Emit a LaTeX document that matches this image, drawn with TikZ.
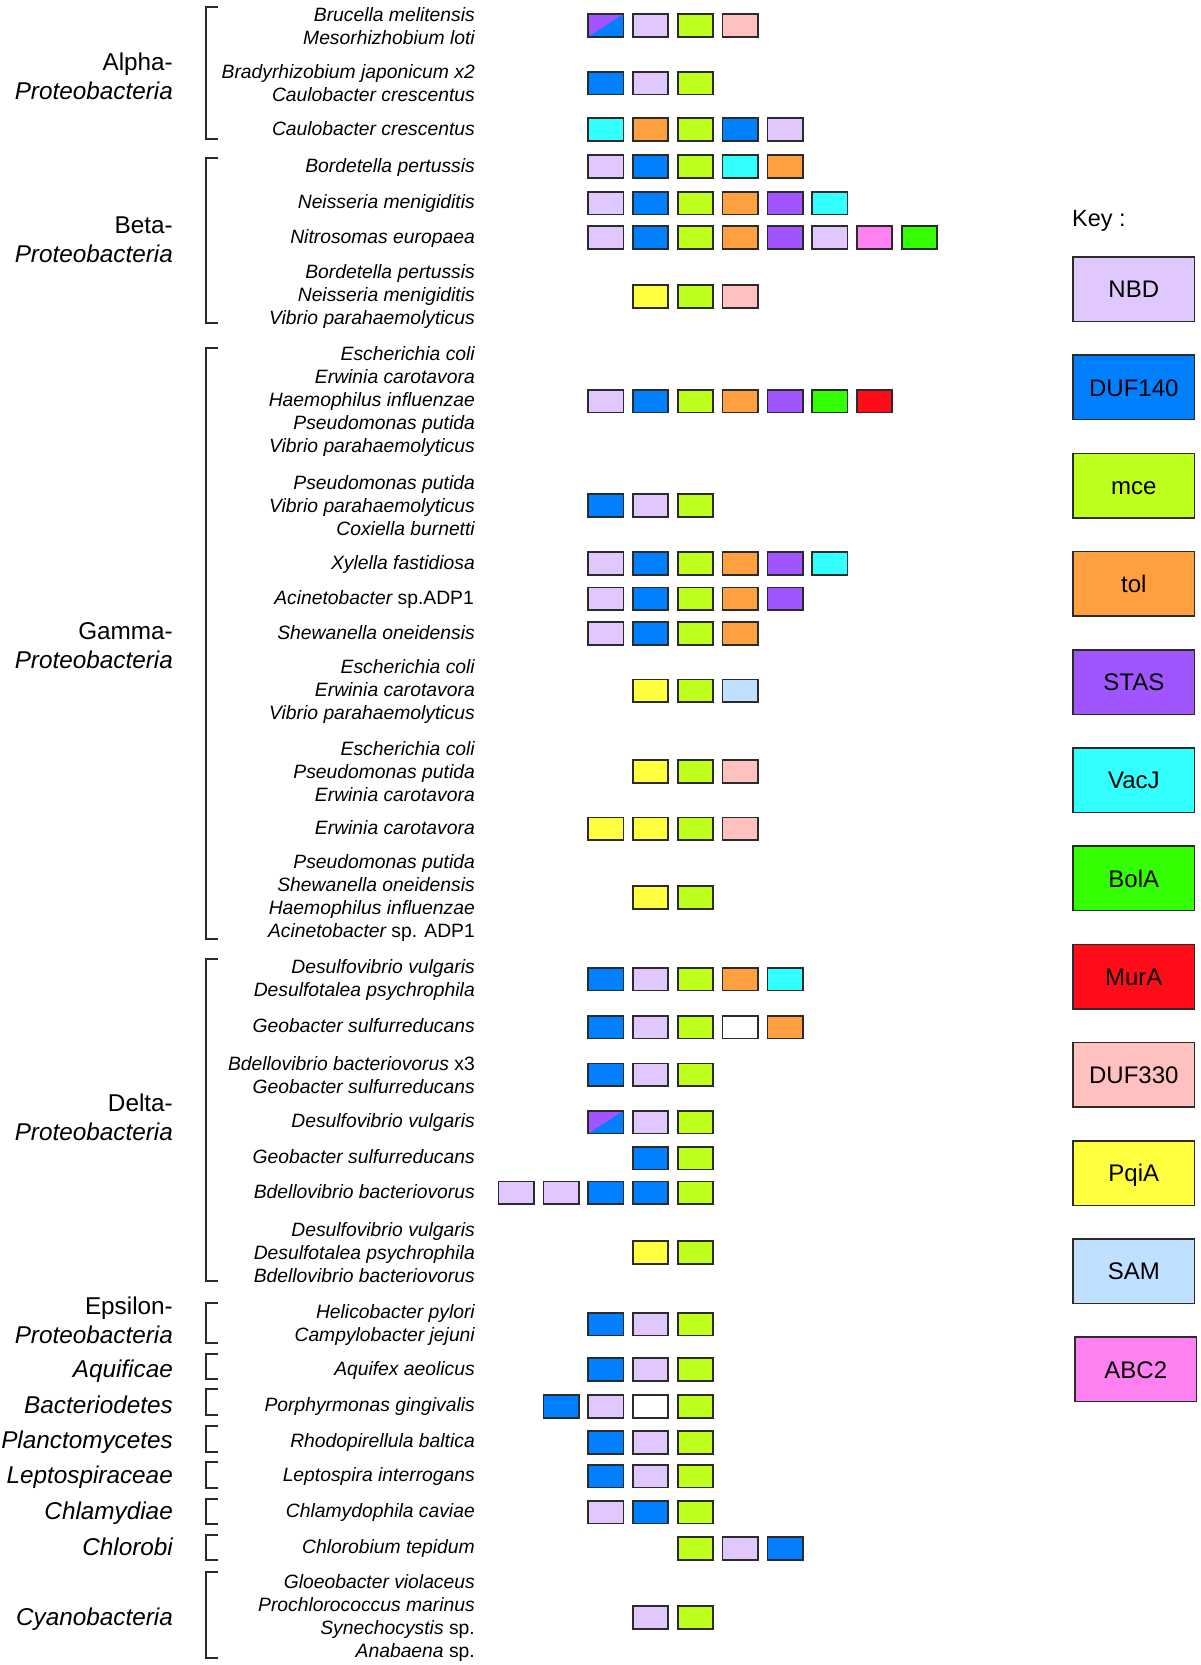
\documentclass[tikz,border=0pt]{standalone}
\usepackage{fontspec}
\setmainfont{Liberation Sans}
\definecolor{cNBD}{HTML}{E0C8FF}
\definecolor{cDUF}{HTML}{0080FF}
\definecolor{cMCE}{HTML}{BEFF1E}
\definecolor{cTOL}{HTML}{FFA040}
\definecolor{cSTAS}{HTML}{A055FF}
\definecolor{cVAC}{HTML}{33FFFF}
\definecolor{cBOL}{HTML}{33FF00}
\definecolor{cMUR}{HTML}{FF0C18}
\definecolor{cDUFB}{HTML}{FFC0C0}
\definecolor{cPQI}{HTML}{FFFF40}
\definecolor{cSAM}{HTML}{C0E0FF}
\definecolor{cABC}{HTML}{FF80F0}
\definecolor{cWHT}{HTML}{FFFFFF}
\definecolor{cEdge}{HTML}{2B2B2B}
\newcommand{\generow}[4]{%
  \foreach \s [count=\i from 0] in {#4}{%
    \node[gbox, fill=\s] (#1-\i) at ({605.8+44.8*(#3+\i)},#2) {};
  }}
\begin{document}
\begin{tikzpicture}[x=1pt,y=-1pt,
  gbox/.style={draw=cEdge, line width=1.7pt, minimum width=35.3pt, minimum height=22.7pt, inner sep=0pt, outer sep=0pt},
  halfbox/.style={gbox, fill=cDUF, path picture={\fill[cSTAS] (path picture bounding box.north west) -- (path picture bounding box.north east) -- (path picture bounding box.south west) -- cycle;}},
  kbox/.style={draw=cEdge, line width=1.5pt, minimum width=121.5pt, minimum height=64.5pt, inner sep=0pt, font=\fontsize{24}{28}\selectfont, text height=17.2pt, text depth=0pt},
  sp/.style={anchor=east, align=right, inner sep=0pt, font=\fontsize{19.3}{23}\selectfont\itshape},
  spone/.style={anchor=base east, inner sep=0pt, font=\fontsize{19.3}{23}\selectfont\itshape},
  grp/.style={anchor=east, align=right, inner sep=0pt, font=\fontsize{24.3}{28.6}\selectfont},
  grpone/.style={anchor=base east, inner sep=0pt, font=\fontsize{24.3}{28.6}\selectfont\itshape},
  brk/.style={draw=cEdge, line width=2pt}
]
\useasboundingbox (0,0) rectangle (1200,1665);

% ---------------- brackets ----------------
\draw[brk] (218.3,6.7) -- (206,6.7) -- (206,139.3) -- (218.3,139.3);
\draw[brk] (218.3,157.7) -- (206,157.7) -- (206,323.3) -- (218.3,323.3);
\draw[brk] (218.3,348.3) -- (206,348.3) -- (206,938.8) -- (218.3,938.8);
\draw[brk] (218.3,959) -- (206,959) -- (206,1280.7) -- (218.3,1280.7);
\draw[brk] (218.3,1302.7) -- (206,1302.7) -- (206,1342.7) -- (218.3,1342.7);
\draw[brk] (218.3,1354) -- (206,1354) -- (206,1379) -- (218.3,1379);
\draw[brk] (218.3,1389.3) -- (206,1389.3) -- (206,1415) -- (218.3,1415);
\draw[brk] (218.3,1425.7) -- (206,1425.7) -- (206,1451.7) -- (218.3,1451.7);
\draw[brk] (218.3,1462.3) -- (206,1462.3) -- (206,1487.7) -- (218.3,1487.7);
\draw[brk] (218.3,1499) -- (206,1499) -- (206,1524.3) -- (218.3,1524.3);
\draw[brk] (218.3,1535.3) -- (206,1535.3) -- (206,1560.3) -- (218.3,1560.3);
\draw[brk] (218.3,1572) -- (206,1572) -- (206,1657.7) -- (218.3,1657.7);

% ---------------- group labels ----------------
\node[grp] (gAlpha) at (173,76.2) {Alpha-\\\textit{Proteobacteria}};
\node[grp] (gBeta) at (173,239.8) {Beta-\\\textit{Proteobacteria}};
\node[grp] (gGamma) at (173,645.9) {Gamma-\\\textit{Proteobacteria}};
\node[grp] (gDelta) at (173,1117.2) {Delta-\\\textit{Proteobacteria}};
\node[grp] (gEps) at (173,1320.5) {Epsilon-\\\textit{Proteobacteria}};
\node[grpone] (gAq) at (173,1377.3) {Aquificae};
\node[grpone] (gBa) at (173,1413.3) {Bacteriodetes};
\node[grpone] (gPl) at (173,1448.3) {Planctomycetes};
\node[grpone] (gLe) at (173,1483.3) {Leptospiraceae};
\node[grpone] (gCh) at (173,1519.3) {Chlamydiae};
\node[grpone] (gCb) at (173,1555) {Chlorobi};
\node[grpone] (gCy) at (173,1625.7) {Cyanobacteria};

% ---------------- species labels ----------------
\node[sp] (lA1) at (475,26) {Brucella melitensis\\Mesorhizhobium loti};
\node[sp] (lA2) at (475,83.5) {Bradyrhizobium japonicum x2\\Caulobacter crescentus};
\node[spone] (lA3) at (475,135.1) {Caulobacter crescentus};
\node[spone] (lB1) at (475,172.1) {Bordetella pertussis};
\node[spone] (lB2) at (475,208.6) {Neisseria menigiditis};
\node[spone] (lB3) at (475,243.1) {Nitrosomas europaea};
\node[sp] (lB4) at (475,296.8) {Bordetella pertussis\\Neisseria menigiditis\\Vibrio parahaemolyticus};
\node[sp] (lG1) at (475,401.7) {Escherichia coli\\Erwinia carotavora\\Haemophilus influenzae\\Pseudomonas putida\\Vibrio parahaemolyticus};
\node[sp] (lG2) at (475,506) {Pseudomonas putida\\Vibrio parahaemolyticus\\Coxiella burnetti};
\node[spone] (lG3) at (475,569.1) {Xylella fastidiosa};
\node[spone] (lG4) at (474,604.3) {Acinetobacter {\upshape sp.ADP1}};
\node[spone] (lG5) at (475,639.1) {Shewanella oneidensis};
\node[sp] (lG6) at (475,691.3) {Escherichia coli\\Erwinia carotavora\\Vibrio parahaemolyticus};
\node[sp] (lG7) at (475,771.8) {Escherichia coli\\Pseudomonas putida\\Erwinia carotavora};
\node[spone] (lG8) at (475,834.4) {Erwinia carotavora};
\node[sp] (lG9) at (475,898) {Pseudomonas putida\\Shewanella oneidensis\\Haemophilus influenzae\\Acinetobacter {\upshape sp. ADP1}};
\node[sp] (lD1) at (475,979.5) {Desulfovibrio vulgaris\\Desulfotalea psychrophila};
\node[spone] (lD2) at (475,1032.8) {Geobacter sulfurreducans};
\node[sp] (lD3) at (475,1075.2) {Bdellovibrio bacteriovorus {\upshape x3}\\Geobacter sulfurreducans};
\node[spone] (lD4) at (475,1127.8) {Desulfovibrio vulgaris};
\node[spone] (lD5) at (475,1163.6) {Geobacter sulfurreducans};
\node[spone] (lD6) at (475,1198.4) {Bdellovibrio bacteriovorus};
\node[sp] (lD7) at (475,1252.8) {Desulfovibrio vulgaris\\Desulfotalea psychrophila\\Bdellovibrio bacteriovorus};
\node[sp] (lE1) at (475,1324.7) {Helicobacter pylori\\Campylobacter jejuni};
\node[spone] (lAq) at (475,1375.1) {Aquifex aeolicus};
\node[spone] (lBa) at (475,1411.9) {Porphyrmonas gingivalis};
\node[spone] (lPl) at (475,1447.9) {Rhodopirellula baltica};
\node[spone] (lLe) at (475,1481.8) {Leptospira interrogans};
\node[spone] (lCh) at (475,1517.8) {Chlamydophila caviae};
\node[spone] (lCb) at (475,1553.9) {Chlorobium tepidum};
\node[sp] (lCy) at (475,1617.8) {Gloeobacter violaceus\\Prochlorococcus marinus\\Synechocystis {\upshape sp.}\\Anabaena {\upshape sp.}};

% ---------------- gene boxes ----------------
\node[halfbox] (A1-h) at (605.8,25.5) {};
\generow{A1}{25.5}{1}{cNBD,cMCE,cDUFB}
\generow{A2}{83}{0}{cDUF,cNBD,cMCE}
\generow{A3}{129.5}{0}{cVAC,cTOL,cMCE,cDUF,cNBD}
\generow{B1}{166.5}{0}{cNBD,cDUF,cMCE,cVAC,cTOL}
\generow{B2}{203}{0}{cNBD,cDUF,cMCE,cTOL,cSTAS,cVAC}
\generow{B3}{237.5}{0}{cNBD,cDUF,cMCE,cTOL,cSTAS,cNBD,cABC,cBOL}
\generow{B4}{296.3}{1}{cPQI,cMCE,cDUFB}
\generow{G1}{401.2}{0}{cNBD,cDUF,cMCE,cTOL,cSTAS,cBOL,cMUR}
\generow{G2}{505.5}{0}{cDUF,cNBD,cMCE}
\generow{G3}{563.5}{0}{cNBD,cDUF,cMCE,cTOL,cSTAS,cVAC}
\generow{G4}{598.7}{0}{cNBD,cDUF,cMCE,cTOL,cSTAS}
\generow{G5}{633.5}{0}{cNBD,cDUF,cMCE,cTOL}
\generow{G6}{690.8}{1}{cPQI,cMCE,cSAM}
\generow{G7}{771.3}{1}{cPQI,cMCE,cDUFB}
\generow{G8}{828.8}{0}{cPQI,cPQI,cMCE,cDUFB}
\generow{G9}{897.5}{1}{cPQI,cMCE}
\generow{D1}{979}{0}{cDUF,cNBD,cMCE,cTOL,cVAC}
\generow{D2}{1027.2}{0}{cDUF,cNBD,cMCE,cWHT,cTOL}
\generow{D3}{1074.7}{0}{cDUF,cNBD,cMCE}
\node[halfbox] (D4-h) at (605.8,1122.2) {};
\generow{D4}{1122.2}{1}{cNBD,cMCE}
\generow{D5}{1158}{1}{cDUF,cMCE}
\generow{D6}{1192.8}{-2}{cNBD,cNBD,cDUF,cDUF,cMCE}
\generow{D7}{1252.3}{1}{cPQI,cMCE}
\generow{E1}{1324.2}{0}{cDUF,cNBD,cMCE}
\generow{Aq}{1369.5}{0}{cDUF,cNBD,cMCE}
\generow{Ba}{1406.3}{-1}{cDUF,cNBD,cWHT,cMCE}
\generow{Pl}{1442.3}{0}{cDUF,cNBD,cMCE}
\generow{Le}{1476.2}{0}{cDUF,cNBD,cMCE}
\generow{Ch}{1512.2}{0}{cNBD,cDUF,cMCE}
\generow{Cb}{1548.3}{2}{cMCE,cNBD,cDUF}
\generow{Cy}{1617.3}{1}{cNBD,cMCE}

% ---------------- key ----------------
\node[anchor=base west, inner sep=0pt, font=\fontsize{23.5}{28}\selectfont] (keytitle) at (1072,226) {Key :};
\node[kbox, fill=cNBD] (kNBD) at (1133.8,289.2) {NBD};
\node[kbox, fill=cDUF] (kDUF) at (1133.8,387.4) {DUF140};
\node[kbox, fill=cMCE] (kMCE) at (1133.8,485.6) {mce};
\node[kbox, fill=cTOL] (kTOL) at (1133.8,583.8) {tol};
\node[kbox, fill=cSTAS] (kSTAS) at (1133.8,682) {STAS};
\node[kbox, fill=cVAC] (kVAC) at (1133.8,780.2) {VacJ};
\node[kbox, fill=cBOL] (kBOL) at (1133.8,878.4) {BolA};
\node[kbox, fill=cMUR] (kMUR) at (1133.8,976.6) {MurA};
\node[kbox, fill=cDUFB] (kDUFB) at (1133.8,1074.8) {DUF330};
\node[kbox, fill=cPQI] (kPQI) at (1133.8,1173) {PqiA};
\node[kbox, fill=cSAM] (kSAM) at (1133.8,1271.2) {SAM};
\node[kbox, fill=cABC] (kABC) at (1135.8,1369.4) {ABC2};
\end{tikzpicture}
\end{document}
